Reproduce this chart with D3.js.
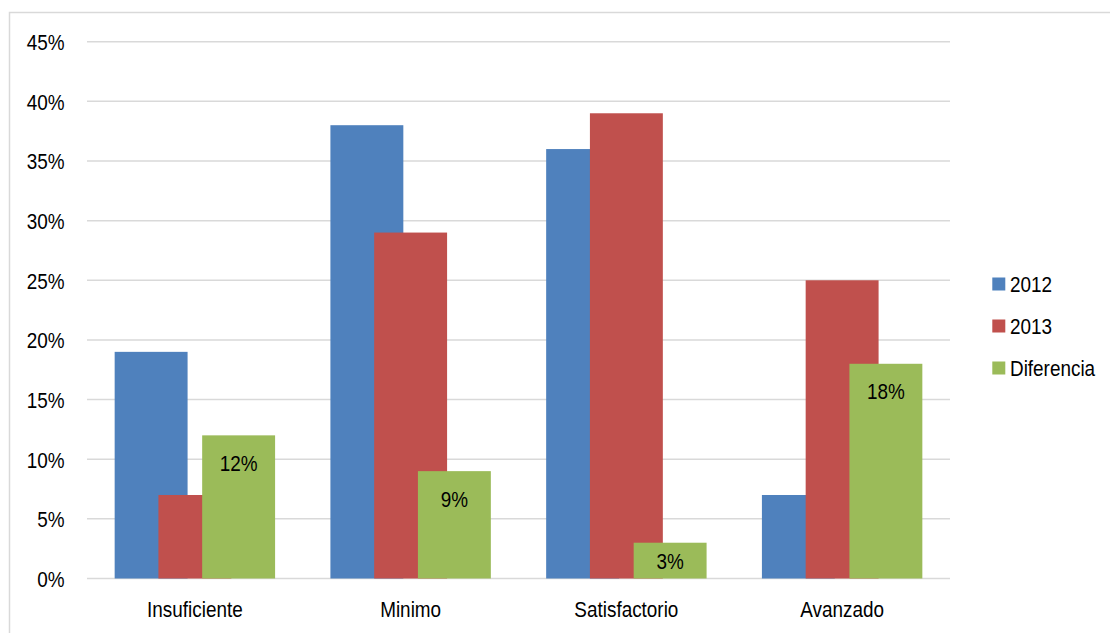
<!DOCTYPE html>
<html>
<head>
<meta charset="utf-8">
<script src="https://cdn.jsdelivr.net/npm/d3@7"></script>
<style>
  html, body { margin: 0; padding: 0; background: #fff; }
  svg { display: block; }
  text { font-family: "Liberation Sans", Arial, sans-serif; fill: #000; font-size: 22px; }
</style>
</head>
<body>
<svg id="chart" width="1110" height="633"></svg>
<script>
// Achievement levels and the share of students in each
const categories = ["Insuficiente", "Minimo", "Satisfactorio", "Avanzado"];
const seriesNames = ["2012", "2013", "Diferencia"];
const values2012 = [0.19, 0.38, 0.36, 0.07];
const values2013 = [0.07, 0.29, 0.39, 0.25];
const valuesDiferencia = [0.12, 0.09, 0.03, 0.18];
const yTicks = [0, 0.05, 0.10, 0.15, 0.20, 0.25, 0.30, 0.35, 0.40, 0.45];
const colors = ["#4F81BD", "#C0504D", "#9BBB59"];

const seriesValues = [values2012, values2013, valuesDiferencia];

const svg = d3.select("#chart");
const W = 1110, H = 633;

// condensed text: placed with a transform and squeezed horizontally
const NARROW = 0.86;
function place(sel, fx, fy) {
  return sel.attr("transform", (d, i) => `translate(${fx(d, i)},${fy(d, i)}) scale(${NARROW},1)`);
}

// outer chart frame
svg.append("rect")
  .attr("x", 9.5).attr("y", 12.5)
  .attr("width", W + 50).attr("height", H + 50)
  .attr("fill", "none").attr("stroke", "#d9d9d9").attr("stroke-width", 1.5);

const plot = { left: 87, right: 950, top: 41.7, bottom: 578.5 };

const x = d3.scaleBand().domain(categories).range([plot.left, plot.right]).padding(0);
const y = d3.scaleLinear().domain([0, 0.45]).range([plot.bottom, plot.top]);

// bars overlap: each bar is offset by 60% of its width from the previous one
const barW = x.bandwidth() * 0.338;
const offset = d3.scalePoint().domain(seriesNames).range([-barW * 0.6, barW * 0.6]);

const pct = d3.format(".0%");

// gridlines
svg.append("g").selectAll("line").data(yTicks).join("line")
  .attr("x1", plot.left).attr("x2", plot.right)
  .attr("y1", d => y(d)).attr("y2", d => y(d))
  .attr("stroke", "#d9d9d9").attr("stroke-width", 1.5);

// y axis labels
place(svg.append("g").selectAll("text").data(yTicks).join("text"),
      () => 64.5, d => y(d) + 8.5)
  .attr("text-anchor", "end")
  .text(d => pct(d));

// bars
seriesNames.forEach((name, si) => {
  svg.append("g").selectAll("rect")
    .data(categories.map((c, i) => ({ c, v: seriesValues[si][i] })))
    .join("rect")
    .attr("x", d => x(d.c) + x.bandwidth() / 2 + offset(name) - barW / 2)
    .attr("y", d => y(d.v))
    .attr("width", barW)
    .attr("height", d => y(0) - y(d.v))
    .attr("fill", colors[si]);
});

// value labels on the difference bars
place(svg.append("g").selectAll("text")
        .data(categories.map((c, i) => ({ c, v: valuesDiferencia[i] })))
        .join("text"),
      d => x(d.c) + x.bandwidth() / 2 + offset("Diferencia"),
      d => Math.min(y(d.v) + 35.5, (y(d.v) + y(0)) / 2 + 8))
  .attr("text-anchor", "middle")
  .text(d => pct(d.v));

// category labels
place(svg.append("g").selectAll("text").data(categories).join("text"),
      d => x(d) + x.bandwidth() / 2, () => 616.5)
  .attr("text-anchor", "middle")
  .text(d => d);

// legend
const legend = svg.append("g");
seriesNames.forEach((name, i) => {
  const cy = 284 + i * 42;
  legend.append("rect")
    .attr("x", 992.3).attr("y", cy - 6.5)
    .attr("width", 13).attr("height", 13)
    .attr("fill", colors[i]);
  legend.append("text")
    .attr("transform", `translate(1010,${cy + 7.5}) scale(${NARROW},1)`)
    .text(name);
});
</script>
</body>
</html>
